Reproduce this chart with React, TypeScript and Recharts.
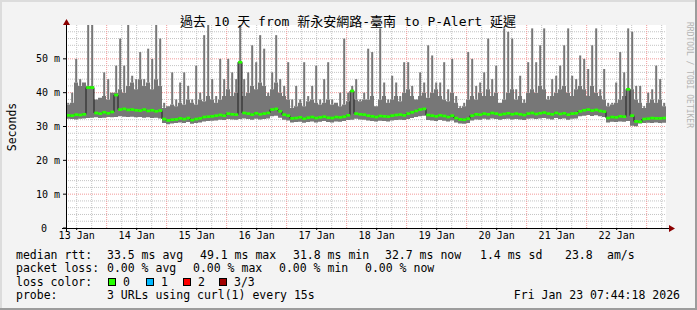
import React from 'react';
import {
  ComposedChart,
  Area,
  Bar,
  Line,
  XAxis,
  YAxis,
  CartesianGrid,
} from 'recharts';

// 10 days ending Fri Jan 23 07:44:18 2026, one value every 1.6 h
const HOURS_PER_POINT = 1.6;
const RANGE_HOURS = 240;
const FIRST_NOON = 4.27; // hours from graph start to noon of 13 Jan
const Y_MAX = 60;

const dayLabels = ['13 Jan', '14 Jan', '15 Jan', '16 Jan', '17 Jan', '18 Jan', '19 Jan', '20 Jan', '21 Jan', '22 Jan'];
const yTicks = [0, 10, 20, 30, 40, 50];
const yMajorGrid = [10, 20, 30, 40, 50];
const yMinorGrid = [2, 4, 6, 8, 12, 14, 16, 18, 22, 24, 26, 28, 32, 34, 36, 38, 42, 44, 46, 48, 52, 54, 56, 58];

// median rtt, ms
const medianRtt = [
  33.3, 33.2, 33.5, 33.4, 33.6, 41.5, 41.5, 34, 33.8, 34.2, 33.9, 34.3, 39.3,
  35, 35.2, 34.9, 35, 34.8, 34.7, 35, 34.6, 34.8, 34.5, 34.7,
  32.2, 31.8, 32, 32.1, 32.4, 32.2, 32.5, 31.9, 32.2, 32.4, 32.8, 32.9, 33, 33.2,
  33.4, 33.2, 33.8, 33.6, 33.5, 49, 34, 33.8, 33.5, 33.9, 33.6, 33.8, 34, 35, 35.2,
  34.5, 33.5, 33.2,
  32.4, 32.5, 32.7, 32.3, 32.6, 32.8, 32.5, 32.7, 32.9, 32.6, 32.5, 32.8, 32.7, 32.9, 33.3,
  40.5, 33.8, 33.6, 33.5,
  33.2, 33, 32.8, 33.1, 33, 32.9, 33.2, 33.4, 33.5, 33.3, 33.8, 34.2, 34.6, 35, 35.2,
  33.4, 33.2, 33, 33.3, 33.1, 32.8, 33.2, 32.5, 32.1, 32, 32.3,
  33.2, 33.6, 33.5, 33.8, 33.6, 34, 33.8, 33.5, 33.7, 33.9, 33.6, 33.8,
  33.6, 33.4, 33.8, 34, 33.7, 33.9, 34.1, 33.8, 33.6, 34, 33.7, 33.9, 33.5, 33.8, 33.9,
  34.5, 34.8, 35, 34.7, 34.9, 34.6, 34.4,
  32.5, 32.8, 32.7, 33, 32.9, 41, 33.2, 31.5, 31.4,
  32.2, 32.3, 32.5, 32.4, 32.4, 32.5,
];

// lower edge of the smoke, ms
const minRtt = [
  32.3, 32.2, 32.1, 32.3, 32.4, 32.5, 32.6, 32.7, 32.5, 32.6, 32.8, 32.7, 32.8, 33, 32.9, 32.8, 32.9, 32.7, 32.8, 32.6, 32.7, 32.5, 32.6, 32.4,
  31, 30.7, 30.9, 31, 31.2, 31, 31.3, 30.8, 31, 31.2, 31.5, 31.6, 31.7, 31.8,
  32, 31.9, 32.2, 32.1, 32, 32.2, 32.4, 32.2, 32, 32.3, 32.1, 32.2, 32.4, 33, 33.2, 32.6, 32, 31.8,
  31.2, 31.3, 31.4, 31.1, 31.3, 31.5, 31.2, 31.4, 31.6, 31.3, 31.2, 31.5, 31.4, 31.6, 31.9, 32, 32.3, 32.1, 32,
  31.8, 31.6, 31.5, 31.7, 31.6, 31.5, 31.8, 31.9, 32, 31.9, 32.2, 32.5, 32.8, 33, 33.2, 31.9, 31.8, 31.6, 31.9, 31.7,
  31.5, 31.8, 31.2, 30.9, 30.8, 31, 31.8, 32.1, 32, 32.3, 32.1, 32.4, 32.2, 32, 32.2, 32.3, 32.1, 32.2,
  32.1, 31.9, 32.3, 32.4, 32.2, 32.4, 32.5, 32.3, 32.1, 32.5, 32.2, 32.4, 32, 32.3, 32.4,
  33, 33.2, 33.4, 33.1, 33.3, 33, 32.8, 31.2, 31.4, 31.3, 31.5, 31.4, 31.6, 30.2, 30.1, 30.9, 31, 31.1, 31, 31.2, 31, 31.1,
];

// top of the dense smoke body, ms
const bodyTop = [
  36.5, 37, 43, 42, 43, 42, 42, 38, 38.5, 39, 38, 40,
  40, 41, 40, 42, 43, 41, 44, 42, 43, 41, 44, 42,
  35.5, 36, 36.5, 36, 37, 36.5, 38, 37, 36.5, 38, 37.5, 39, 38, 37,
  38, 39, 41, 39, 40, 38.5, 39, 40, 42, 41, 43, 42, 39, 41, 43, 40, 39, 38,
  35.5, 36, 37, 36, 37.5, 38, 37, 36.5, 37, 38, 36.5, 37, 36, 36.5, 37.5, 37, 38, 37.5, 38,
  38, 39, 36, 38, 39, 37, 38, 39, 37.5, 40, 41, 39, 38, 39, 40, 38.5, 40, 41, 39, 38,
  37.5, 40, 37, 35.5, 36, 38, 39, 38, 40, 39, 41, 39, 40, 37, 38, 40, 41, 38,
  39, 37, 40, 41, 40, 42, 41, 38, 39, 40, 41, 42, 40, 39, 41, 42, 41, 39, 42, 40,
  39, 38, 36, 36.5, 37, 38, 39, 40, 41, 38, 37, 35.5, 37, 38, 37, 38, 36,
];

// highest ping of each step, ms
const maxRtt = [
  37, 40, 50, 44, 43, 60, 60, 38, 38, 46, 44, 40, 48, 56, 48, 60, 45, 44, 52, 44,
  53, 50, 60, 56, 37, 36, 46, 38, 43, 46, 42, 38, 48, 40, 57, 60, 44, 39,
  50, 44, 50, 46, 44, 60, 44, 46, 54, 49, 57, 53, 40, 46, 57, 44, 42, 49, 38, 42,
  38, 49, 39, 42, 48, 38, 44, 49, 38, 37, 40, 56, 40, 42, 44, 38, 40,
  53, 52, 36, 59, 43, 38, 45, 43, 39, 49, 49, 42, 38, 46, 43, 54, 51, 43, 43, 49,
  41, 50, 39, 36, 37, 52, 50, 42, 43, 46, 56, 44, 48, 37, 59, 58, 56, 41,
  45, 38, 49, 59, 49, 54, 59, 39, 44, 45, 48, 54, 59, 45, 44, 51, 50, 47, 54, 59,
  41, 47, 37, 37, 43, 52, 46, 59, 58, 42, 42, 36, 40, 41, 48, 44, 37,
];

const title = '過去 10 天 from 新永安網路-臺南 to P-Alert 延遲';
const rttStats = ['33.5 ms avg', '49.1 ms max', '31.8 ms min', '32.7 ms now', '1.4 ms sd', '23.8', 'am/s'];
const lossStats = ['0.00 % avg', '0.00 % max', '0.00 % min', '0.00 % now'];
const lossColors = [
  { label: '0', color: '#26ff00' },
  { label: '1', color: '#00b8ff' },
  { label: '2', color: '#ff0000' },
  { label: '3/3', color: '#a00000' },
];
const probeText = '3 URLs using curl(1) every 15s';
const stampText = 'Fri Jan 23 07:44:18 2026';

type Row = {
  t: number;
  tc: number;
  lo: number;
  band: number;
  median: number;
  spike: [number, number] | null;
  medBar: [number, number] | null;
};

const rows: Row[] = medianRtt.map((m, i) => {
  const body = Math.max(bodyTop[i], m);
  return {
    t: i * HOURS_PER_POINT,
    tc: (i + 0.5) * HOURS_PER_POINT,
    lo: minRtt[i],
    band: body - minRtt[i],
    median: m,
    spike: maxRtt[i] > body ? [body, maxRtt[i]] : null,
    medBar: [m - 0.4, m + 0.4],
  };
});
// hold the last step to the right edge
rows.push({ ...rows[rows.length - 1], t: RANGE_HOURS, tc: RANGE_HOURS, spike: null, medBar: null });

const labelTicks = dayLabels.map((_, k) => FIRST_NOON + 24 * k);
const xMinorGrid: number[] = [];
const xMajorGrid: number[] = [];
for (let h = FIRST_NOON; h < RANGE_HOURS; h += 6) {
  const fromMidnight = Math.round(h - FIRST_NOON - 12);
  if (fromMidnight >= 0 && fromMidnight % 24 === 0) xMajorGrid.push(h);
  else xMinorGrid.push(h);
}

const MONO = '"DejaVu Sans Mono", "Noto Sans CJK TC", monospace';

// grid positions from the plot offset (grid only, not data marks)
const gridY = (vals: number[]) => ({ offset }: any) =>
  vals.map((v) => offset.top + offset.height * (1 - v / Y_MAX));
const gridX = (vals: number[]) => ({ offset }: any) =>
  vals.map((v) => offset.left + (offset.width * v) / RANGE_HOURS);

const YTick = ({ x, y, payload }: any) => {
  const v = payload.value;
  // rrdtool keeps the unit column empty for 0
  return (
    <text x={v === 0 ? x - 13 : x} y={y} dy={3.5} textAnchor="end" fontSize={10} fill="#000" fontFamily={MONO}>
      {v === 0 ? '0' : `${v} m`}
    </text>
  );
};

// rect of fixed pixel width centred on the bar the library placed
const fixedWidthBar = (w: number, color: string) => (props: any) => {
  const { x, y, width, height } = props;
  if (height == null || !isFinite(y)) return <g />;
  const top = Math.min(y, y + height);
  return <rect x={x + width / 2 - w / 2} y={top} width={w} height={Math.abs(height)} fill={color} />;
};

export default function App() {
  const rowY = [258.5, 272, 285.5, 299];
  const rttX = [107, 200, 293, 385, 480, 565, 607];
  const lossX = [107, 193, 279, 365];
  const boxX = [108, 146, 183, 219];

  return (
    <div
      style={{
        position: 'absolute',
        left: 0,
        top: 0,
        width: 697,
        height: 310,
        background: '#f3f3f3',
        overflow: 'hidden',
      }}
    >
      <ComposedChart
        width={697}
        height={310}
        data={rows}
        margin={{ top: 25, right: 31, bottom: 52, left: 0 }}
      >
        <CartesianGrid
          fill="#ffffff"
          stroke="#c4c4c4"
          strokeDasharray="1 1"
          horizontalCoordinatesGenerator={gridY(yMinorGrid)}
          verticalCoordinatesGenerator={gridX(xMinorGrid)}
        />
        <CartesianGrid
          stroke="#f19a9a"
          strokeDasharray="1 1"
          horizontalCoordinatesGenerator={gridY(yMajorGrid)}
          verticalCoordinatesGenerator={gridX(xMajorGrid)}
        />
        <XAxis
          dataKey="t"
          type="number"
          domain={[0, RANGE_HOURS]}
          ticks={labelTicks}
          tickFormatter={(v: number) => dayLabels[Math.round((v - FIRST_NOON) / 24)]}
          height={30}
          axisLine={false}
          tickLine={{ stroke: '#000' }}
          tickSize={2}
          tickMargin={2}
          tick={{ fontSize: 10, fill: '#000', fontFamily: MONO }}
          allowDataOverflow
        />
        <XAxis xAxisId="spk" dataKey="tc" type="number" domain={[0, RANGE_HOURS]} hide allowDataOverflow />
        <XAxis xAxisId="med" dataKey="tc" type="number" domain={[0, RANGE_HOURS]} hide allowDataOverflow />
        <YAxis
          type="number"
          domain={[0, Y_MAX]}
          ticks={yTicks}
          width={66}
          axisLine={false}
          tickLine={{ stroke: '#000' }}
          tickSize={3}
          tickMargin={3}
          tick={YTick}
          allowDataOverflow
        />
        <Area
          dataKey="lo"
          stackId="smoke"
          type="stepAfter"
          stroke="none"
          fill="none"
          isAnimationActive={false}
        />
        <Area
          dataKey="band"
          stackId="smoke"
          type="stepAfter"
          stroke="none"
          fill="#777777"
          fillOpacity={1}
          isAnimationActive={false}
        />
        <Bar
          xAxisId="spk"
          dataKey="spike"
          fill="#777777"
          shape={fixedWidthBar(2, '#777777')}
          isAnimationActive={false}
        />
        <Line
          dataKey="median"
          type="stepAfter"
          stroke="#1e1e1e"
          strokeWidth={1}
          dot={false}
          zIndex={250}
          isAnimationActive={false}
        />
        <Bar
          xAxisId="med"
          dataKey="medBar"
          fill="#26ff00"
          shape={fixedWidthBar(4, '#26ff00')}
          zIndex={500}
          isAnimationActive={false}
        />
      </ComposedChart>

      <svg
        width={697}
        height={310}
        style={{ position: 'absolute', left: 0, top: 0, pointerEvents: 'none' }}
        fontFamily={MONO}
      >
        {/* frame */}
        <rect x={0} y={0} width={697} height={2} fill="#dcdcdc" />
        <rect x={0} y={0} width={2} height={310} fill="#dcdcdc" />
        <rect x={0} y={308} width={697} height={2} fill="#9c9c9c" />
        <rect x={695} y={0} width={2} height={310} fill="#9c9c9c" />

        {/* axes with arrows */}
        <line x1={62} y1={228.5} x2={670} y2={228.5} stroke="#000" />
        <polygon points="669,225 675,228.5 669,232" fill="#8b0000" />
        <line x1={66.5} y1={232} x2={66.5} y2={24} stroke="#000" />
        <polygon points="63,25 66.5,19 70,25" fill="#8b0000" />

        <text x={348} y={26} fontSize={13} textAnchor="middle" fill="#000">
          {title}
        </text>
        <text
          x={16}
          y={127}
          fontSize={11.5}
          textAnchor="middle"
          fill="#000"
          transform="rotate(-90 16 127)"
        >
          Seconds
        </text>
        <text
          x={687}
          y={22}
          fontSize={8}
          fill="#b4b4b4"
          transform="rotate(90 687 22)"
        >
          RRDTOOL / TOBI OETIKER
        </text>

        <g fontSize={11.5} fill="#000">
          <text x={16} y={rowY[0]}>median rtt:</text>
          {rttStats.map((s, i) => (
            <text key={s + i} x={rttX[i]} y={rowY[0]}>
              {s}
            </text>
          ))}
          <text x={16} y={rowY[1]}>packet loss:</text>
          {lossStats.map((s, i) => (
            <text key={s + i} x={lossX[i]} y={rowY[1]}>
              {s}
            </text>
          ))}
          <text x={16} y={rowY[2]}>loss color:</text>
          {lossColors.map((c, i) => (
            <g key={c.label}>
              <rect x={boxX[i] + 0.5} y={278.5} width={7} height={7} fill={c.color} stroke="#000" />
              <text x={boxX[i] + 15} y={rowY[2]}>
                {c.label}
              </text>
            </g>
          ))}
          <text x={16} y={rowY[3]}>probe:</text>
          <text x={107} y={rowY[3]}>{probeText}</text>
          <text x={680} y={rowY[3]} textAnchor="end">
            {stampText}
          </text>
        </g>
      </svg>
    </div>
  );
}
